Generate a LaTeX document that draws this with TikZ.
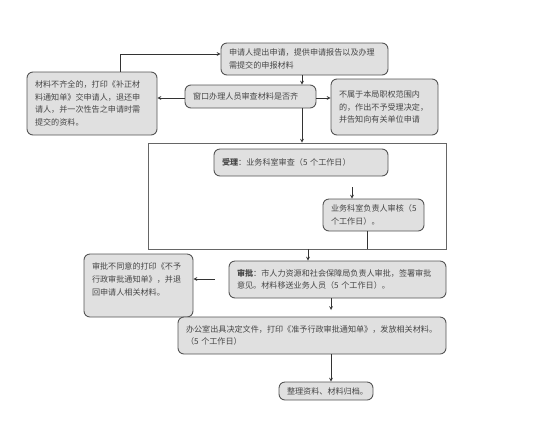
\documentclass[tikz,border=0pt]{standalone}
\usepackage{fontspec}
\newfontfamily\cjk{Noto Sans CJK SC}
\usetikzlibrary{shapes,arrows,positioning,calc}
\definecolor{boxfill}{RGB}{224,224,224}
\definecolor{boxline}{RGB}{85,85,85}
\definecolor{txtgray}{RGB}{70,70,70}

\begin{document}
\begin{tikzpicture}[x=1pt, y=-1pt, >=stealth,
    procbox/.style={draw=boxline, line width=0.9pt, rounded corners=6pt, fill=boxfill,
        align=left, inner xsep=8pt, inner ysep=3pt, text=txtgray,
        font=\cjk\fontsize{8.1}{12.7}\selectfont},
    link/.style={draw=black!80, line width=0.7pt}]
    \useasboundingbox (0,0) rectangle (545,440);

    % outer frame round the review steps
    \node[draw=black!60, line width=0.8pt, minimum width=298pt, minimum height=106pt, inner sep=0pt] (frame) at (297,196) {};

    \node[procbox, text width=151pt, minimum height=32pt] (apply) at (304.5,59) {申请人提出申请，提供申请报告以及办理\\需提交的申报材料};
    \node[procbox, text width=114pt, minimum height=63pt] (lack) at (92,103.5) {材料不齐全的，打印《补正材\\料通知单》交申请人，退还申\\请人，并一次性告之申请时需\\提交的资料。};
    \node[procbox, text width=115pt, minimum height=23pt] (check) at (250.5,96.5) {窗口办理人员审查材料是否齐};
    \node[procbox, text width=91pt, minimum height=56pt] (reject) at (384.5,107) {不属于本局职权范围内\\的，作出不予受理决定，\\并告知向有关单位申请};
    \node[procbox, text width=158pt, minimum height=27pt] (accept) at (301,162.5) {\textbf{受理}：业务科室审查（5 个工作日）};
    \node[procbox, text width=85pt, minimum height=32pt] (review) at (373.5,215) {业务科室负责人审核（5\\个工作日）。};
    \node[procbox, text width=201pt, minimum height=37pt] (approve) at (337.5,279.5) {\textbf{审批}：市人力资源和社会保障局负责人审批，签署审批\\意见。材料移送业务人员（5 个工作日）。};
    \node[procbox, text width=93pt, minimum height=63pt] (deny) at (138.5,285.5) {审批不同意的打印《不予\\行政审批通知单》，并退\\回申请人相关材料。\\ \mbox{}};
    \node[procbox, text width=252pt, minimum height=37pt] (issue) at (312,335.5) {办公室出具决定文件，打印《准予行政审批通知单》，发放相关材料。\\（5 个工作日）};
    \node[procbox, text width=78pt, minimum height=18pt, inner ysep=2pt] (archive) at (326,391) {整理资料、材料归档。};

    \coordinate (spine) at (302,0);
    \coordinate (gapA) at (352,187);
    \coordinate (gapB) at (215,279);
    \coordinate (stopA) at (331,310);

    \draw[link,->] (apply.south -| spine) -- (check.north -| spine);
    \draw[link,->] (check.south -| spine) -- (frame.north -| spine);
    \draw[link,->] ([xshift=28pt]lack.north) |- ([yshift=5pt]apply.west);
    \draw[link,->] ([yshift=-1.5pt]check.west) -- ([yshift=-1.5pt]check.west -| lack.east);
    \draw[link,->] ([yshift=-1.5pt]check.east) -- ([yshift=-1.5pt]check.east -| reject.west);
    \draw[link,->] (gapA) -- (gapA |- review.north);
    \draw[link] ([xshift=-6.5pt]review.south) -- ([xshift=-6.5pt]review.south |- frame.south);
    \draw[link,->] ([xshift=11pt]frame.south) -- ([xshift=11pt]frame.south |- approve.north);
    \draw[link,->] (gapB) -- (gapB -| deny.east);
    \draw[link,->] (approve.south -| stopA) -- (stopA);
    \draw[link,->] (issue.south -| stopA) -- (archive.north -| stopA);
\end{tikzpicture}
\end{document}
